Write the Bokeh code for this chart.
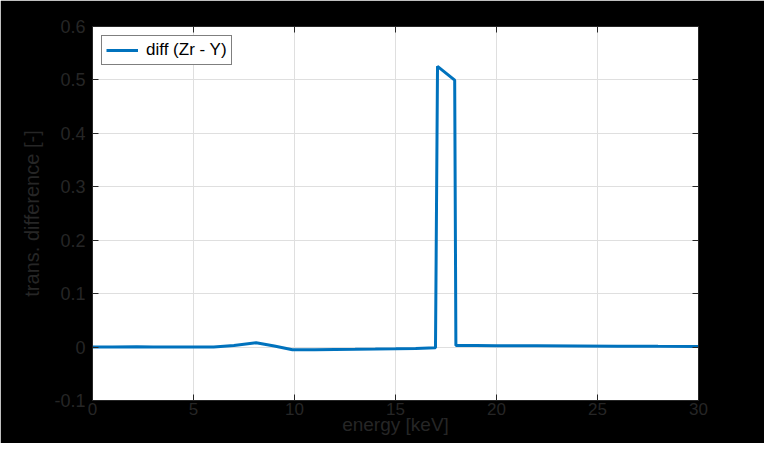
from bokeh.plotting import figure
from bokeh.models import LinearAxis, Range1d, FixedTicker, Legend, LegendItem
from bokeh.embed import file_html
from bokeh.resources import INLINE

energy = [0.0, 1.0, 2.2, 3.0, 4.0, 5.0, 6.0, 7.0, 8.1, 9.0, 9.9, 11.0, 12.0, 13.0, 14.0,
          15.0, 16.0, 16.98, 17.08, 17.93, 17.99, 19.0, 20.0, 22.0, 24.0, 26.0, 28.0, 30.0]
diff_zr_y = [0.0, 0.0, 0.0005, 0.0, 0.0, 0.0, 0.0003, 0.003, 0.008, 0.002, -0.005, -0.0048,
             -0.0045, -0.0042, -0.0038, -0.0033, -0.0025, -0.0013, 0.5255, 0.4995, 0.003,
             0.0028, 0.0026, 0.0023, 0.002, 0.0017, 0.0014, 0.0012]
x_ticks = [0, 5, 10, 15, 20, 25, 30]
y_ticks = [-0.1, 0, 0.1, 0.2, 0.3, 0.4, 0.5, 0.6]
y_tick_labels = {-0.1: "-0.1", 0: "0", 0.1: "0.1", 0.2: "0.2", 0.3: "0.3", 0.4: "0.4", 0.5: "0.5", 0.6: "0.6"}

FONT = "Liberation Sans"
AX = "#262626"

p = figure(width=764, height=443, output_backend="svg", toolbar_location=None,
           x_range=Range1d(0, 30), y_range=Range1d(-0.1, 0.6),
           x_axis_location=None, y_axis_location=None,
           min_border_left=92, min_border_right=66, min_border_top=26, min_border_bottom=43)
p.background_fill_color = "white"
p.border_fill_color = "black"
p.outline_line_color = AX
p.outline_line_width = 1

r = p.line(energy, diff_zr_y, line_color="#0072BD", line_width=3)

def mk_axis(ticks, labels=True):
    ax = LinearAxis(ticker=FixedTicker(ticks=ticks))
    ax.axis_line_color = AX
    ax.major_tick_line_color = AX
    ax.major_tick_in = 6
    ax.major_tick_out = 0
    ax.minor_tick_line_color = None
    if labels:
        ax.major_label_text_font = FONT
        ax.major_label_text_font_size = "18px"
        ax.major_label_text_color = AX
        ax.axis_label_text_font = FONT
        ax.axis_label_text_font_size = "20px"
        ax.axis_label_text_color = AX
        ax.axis_label_text_font_style = "normal"
    else:
        ax.major_label_text_font_size = "0px"
        ax.major_label_text_color = None
    return ax

xb = mk_axis(x_ticks)
xb.axis_label = "energy [keV]"
xb.major_label_standoff = 2
xb.axis_label_standoff = -4
xb.major_label_text_font_size = "17px"
xb.axis_label_text_font_size = "19px"
p.add_layout(xb, "below")

yl = mk_axis(y_ticks)
yl.axis_label = "trans. difference [-]"
yl.major_label_overrides = y_tick_labels
yl.major_label_standoff = 7
yl.axis_label_standoff = 8
p.add_layout(yl, "left")

xt = mk_axis(x_ticks, labels=False)
p.add_layout(xt, "above")
yr = mk_axis(y_ticks, labels=False)
p.add_layout(yr, "right")

p.xgrid.ticker = FixedTicker(ticks=x_ticks)
p.ygrid.ticker = FixedTicker(ticks=y_ticks)
p.xgrid.grid_line_color = "#dfdfdf"
p.ygrid.grid_line_color = "#dfdfdf"

legend = Legend(items=[LegendItem(label="diff (Zr - Y)", renderers=[r])],
                location="top_left")
legend.label_text_font = FONT
legend.label_text_font_size = "17px"
legend.label_text_color = "black"
legend.border_line_color = "black"
legend.border_line_width = 1
legend.background_fill_color = "white"
legend.background_fill_alpha = 1
legend.glyph_width = 32
legend.glyph_height = 16
legend.padding = 4
legend.margin = 9
legend.spacing = 0
legend.label_standoff = 8
p.add_layout(legend, "center")

open("out.html", "w").write(file_html(p, INLINE))
